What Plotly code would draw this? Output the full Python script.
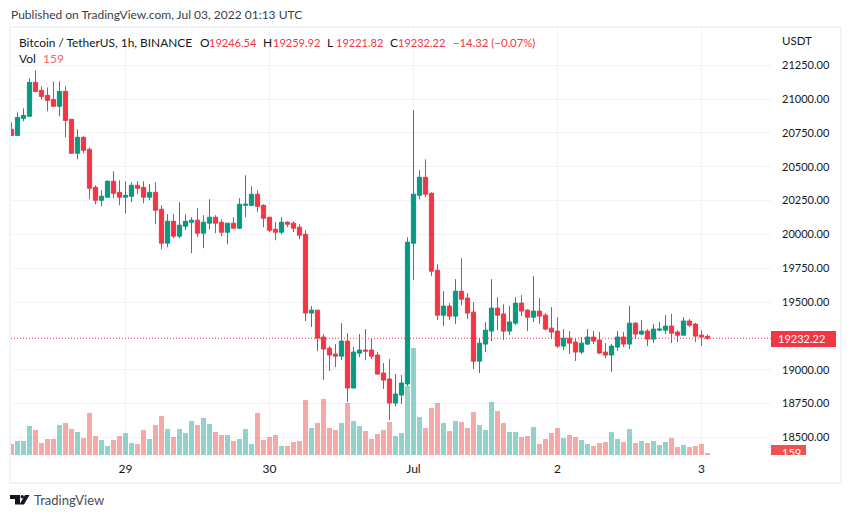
import pandas as pd
import plotly.graph_objects as go

# BTCUSDT 1h candles
times = pd.date_range("2022-06-28 05:00", periods=117, freq="h")

opens = [20777, 20732, 20858, 20873, 21124, 21065, 21028, 20998, 20947, 21057,
         20851, 20600, 20718, 20629, 20348, 20252, 20275, 20393, 20311, 20275,
         20282, 20363, 20348, 20275, 20311, 20186, 19935, 20097, 19987, 20060,
         20090, 20105, 20009, 20083, 20127, 20090, 20016, 20083, 20046, 20215,
         20215, 20297, 20215, 20127, 20038, 20016, 20090, 20083, 20053, 20001,
         19418, 19440, 19241, 19159, 19115, 19100, 19211, 18864, 19122, 19145,
         19145, 19108, 18975, 18931, 18753, 18812, 18894, 19935, 20289, 20422,
         20304, 19735, 19403, 19470, 19396, 19580, 19529, 19425, 19063, 19189,
         19285, 19455, 19411, 19285, 19344, 19492, 19440, 19388, 19433, 19403,
         19307, 19285, 19174, 19233, 19204, 19130, 19189, 19241, 19219, 19130,
         19108, 19167, 19241, 19189, 19344, 19263, 19285, 19226, 19292, 19292,
         19322, 19278, 19255, 19359, 19337, 19255, 19246.54]
highs = [20828, 20902, 20932, 21153, 21212, 21094, 21087, 21131, 21131, 21094,
         20851, 20777, 20725, 20644, 20363, 20326, 20400, 20467, 20400, 20393,
         20385, 20393, 20393, 20371, 20385, 20215, 20149, 20149, 20238, 20149,
         20127, 20193, 20142, 20260, 20142, 20112, 20083, 20127, 20267, 20437,
         20356, 20326, 20223, 20127, 20090, 20127, 20097, 20097, 20075, 20031,
         19470, 19440, 19263, 19174, 19189, 19344, 19270, 19167, 19263, 19300,
         19226, 19130, 19049, 19078, 18967, 18960, 19979, 20917, 20474, 20555,
         20311, 19780, 19580, 19492, 19669, 19824, 19566, 19499, 19233, 19351,
         19669, 19536, 19484, 19470, 19536, 19551, 19448, 19691, 19529, 19418,
         19462, 19388, 19300, 19285, 19226, 19241, 19300, 19285, 19278, 19196,
         19189, 19285, 19278, 19470, 19352, 19366, 19300, 19337, 19352, 19403,
         19411, 19292, 19388, 19374, 19344, 19292, 19259.92]
lows = [20732, 20732, 20836, 20873, 21050, 20998, 20910, 20947, 20873, 20718,
        20595, 20555, 20600, 20260, 20223, 20208, 20275, 20267, 20215, 20156,
        20238, 20297, 20230, 20252, 20075, 19891, 19905, 19972, 19972, 20031,
        19861, 19979, 19898, 20038, 20009, 19987, 19927, 20038, 20038, 20127,
        20208, 20164, 20053, 20016, 19957, 20001, 20053, 20016, 19964, 19359,
        19315, 19137, 18923, 18990, 19019, 19071, 18761, 18864, 19093, 19071,
        19078, 18967, 18857, 18628, 18731, 18746, 18879, 19662, 20260, 20275,
        19691, 19366, 19322, 19366, 19337, 19477, 19374, 19004, 18975, 19130,
        19211, 19292, 19219, 19255, 19329, 19396, 19285, 19352, 19337, 19292,
        19226, 19160, 19145, 19115, 19064, 19115, 19182, 19189, 19115, 19086,
        18982, 19137, 19167, 19152, 19226, 19255, 19174, 19196, 19285, 19263,
        19196, 19204, 19255, 19315, 19204, 19174, 19221.82]
closes = [20732, 20865, 20880, 21124, 21057, 21020, 20991, 20947, 21057, 20843,
          20600, 20718, 20622, 20341, 20252, 20282, 20393, 20304, 20275, 20289,
          20363, 20341, 20275, 20311, 20179, 19935, 20097, 19987, 20068, 20097,
          20105, 20009, 20090, 20127, 20083, 20016, 20083, 20046, 20223, 20223,
          20297, 20208, 20119, 20031, 20016, 20090, 20075, 20046, 19994, 19418,
          19440, 19233, 19152, 19108, 19100, 19211, 18864, 19130, 19145, 19137,
          19100, 18967, 18923, 18753, 18820, 18901, 19942, 20297, 20422, 20297,
          19728, 19403, 19470, 19396, 19580, 19521, 19418, 19063, 19196, 19292,
          19455, 19403, 19285, 19352, 19492, 19433, 19388, 19433, 19396, 19300,
          19278, 19174, 19233, 19196, 19130, 19196, 19241, 19211, 19123, 19108,
          19174, 19241, 19189, 19344, 19263, 19285, 19226, 19300, 19300, 19322,
          19270, 19255, 19359, 19329, 19248, 19241, 19232.22]
volumes = [875, 1113, 1113, 2306, 1988, 954, 1272, 1272, 2385, 2544,
           2067, 1829, 1352, 3339, 1511, 1193, 716, 1193, 1511, 1749,
           954, 875, 1988, 1272, 2385, 3101, 2067, 1431, 2067, 1749,
           2703, 2385, 2942, 2465, 1829, 1590, 1590, 1113, 1272, 2067,
           875, 3339, 1193, 1431, 1590, 716, 716, 1034, 1113, 4373,
           2147, 2544, 4452, 2147, 1988, 2544, 4134, 2703, 2306, 1908,
           1272, 1670, 1988, 2624, 1511, 1749, 5486, 8507, 3021, 2147,
           3737, 4134, 2544, 1908, 2703, 2624, 2147, 3419, 2385, 1988,
           4214, 3498, 2544, 1829, 1829, 1431, 1511, 2226, 875, 1272,
           1749, 2147, 1352, 1590, 1431, 1193, 875, 716, 954, 1034,
           1829, 1272, 1034, 2067, 954, 1113, 954, 1113, 795, 1034,
           1352, 636, 795, 636, 716, 875, 159]

# 19250 sits under the last price tag in the original, so no tick or grid for it
price_ticks = [18500, 18750, 19000, 19500, 19750, 20000, 20250, 20500,
               20750, 21000, 21250]
date_ticks = ["2022-06-29", "2022-06-30", "2022-07-01", "2022-07-02", "2022-07-03"]
date_labels = ["29", "30", "Jul", "2", "3"]
last_price = 19232.22
last_volume = 159

UP = "#089981"
DOWN = "#f23645"
GRID = "#f0f3fa"
TEXT = "#131722"
FONT = "Lato"

W, H = 851, 518
L, R, T, B = 11, 771, 28, 455


def px(x):
    return (x - L) / (R - L)


def py_(y):
    return (B - y) / (B - T)


def label(x, y, text, color=TEXT, size=12, **kw):
    return dict(xref="paper", yref="paper", x=px(x), y=py_(y), text=text,
                showarrow=False, xanchor="left", yanchor="middle", align="left",
                font=dict(family=FONT, size=size, color=color), borderpad=0, **kw)


def rect(x0, y0, x1, y1, **kw):
    return dict(type="rect", xref="paper", yref="paper", x0=px(x0), x1=px(x1),
                y0=py_(y0), y1=py_(y1), **kw)


def path(points):
    s = "M" + " L".join(f"{px(a):.5f},{py_(b):.5f}" for a, b in points) + " Z"
    return dict(type="path", xref="paper", yref="paper", path=s,
                fillcolor="#131722", line=dict(width=0))


vol_colors = ["rgba(38,166,154,0.5)" if c >= o else "rgba(239,83,80,0.5)"
              for o, c in zip(opens, closes)]

fig = go.Figure()
fig.add_trace(go.Bar(x=times, y=volumes, yaxis="y2", marker=dict(color=vol_colors, line=dict(width=0))))
fig.add_trace(go.Candlestick(
    x=times, open=opens, high=highs, low=lows, close=closes,
    increasing=dict(line=dict(color=UP, width=1), fillcolor=UP),
    decreasing=dict(line=dict(color=DOWN, width=1), fillcolor=DOWN),
    whiskerwidth=0,
))

shapes = [
    rect(10, 27, 841, 483, line=dict(color=GRID, width=2), fillcolor="rgba(0,0,0,0)"),
    dict(type="line", xref="paper", yref="y", x0=0, x1=1, y0=last_price, y1=last_price,
         line=dict(color=DOWN, width=1, dash="1px,2px")),
    rect(771, 331, 836, 347, fillcolor=DOWN, line=dict(width=0)),
    rect(771, 445, 806, 455, fillcolor="#ef5350", line=dict(width=0)),
    # logo
    path([(10, 495), (20, 495), (20, 504.5), (15, 504.5), (15, 499), (10, 499)]),
    path([(29.5, 495), (24, 504.5), (19.5, 504.5), (25, 495)]),
    dict(type="circle", xref="paper", yref="paper", x0=px(20.5), x1=px(24),
         y0=py_(495), y1=py_(498.5), fillcolor="#131722", line=dict(width=0)),
]

annotations = [
    label(10, 15, "Published on TradingView.com, Jul 03, 2022 01:13 UTC", "#3a3e4a"),
    label(18, 42, "Bitcoin / TetherUS, 1h, BINANCE", size=11.9),
    label(199, 42, "O"),
    label(208, 42, "19246.54", DOWN, size=11),
    label(262, 42, "H"),
    label(272, 42, "19259.92", DOWN, size=11),
    label(326, 42, "L"),
    label(335, 42, "19221.82", DOWN, size=11),
    label(389, 42, "C"),
    label(397, 42, "19232.22", DOWN, size=11),
    label(452, 42, "\u221214.32 (\u22120.07%)", DOWN, size=11.3),
    label(18, 59, "Vol"),
    label(42, 59, "159", "#f7636a"),
    label(781, 40, "USDT", size=11.5),
    label(777, 339, "19232.22", "white", size=11),
    label(781, 452, "159", "white", size=11),
    # hides the part of the volume tag below the pane
    dict(xref="paper", yref="paper", x=px(771), y=py_(455), width=40, height=7,
         text=" ", showarrow=False, xanchor="left", yanchor="top", bgcolor="white", borderpad=0),
    label(33, 500, "TradingView", "#4a4d57", size=13),
]

fig.update_layout(
    width=W, height=H,
    margin=dict(l=L, r=W - R, t=T, b=H - B, pad=0),
    paper_bgcolor="white", plot_bgcolor="white",
    showlegend=False, bargap=1 / 6, boxgap=0,
    font=dict(family=FONT, size=12, color=TEXT),
    shapes=shapes, annotations=annotations,
    xaxis=dict(
        type="date",
        range=["2022-06-28 04:55", "2022-07-03 11:35"],
        tickvals=date_ticks, ticktext=date_labels,
        rangeslider=dict(visible=False),
        showgrid=True, gridcolor=GRID, gridwidth=1, zeroline=False,
        showline=False, ticks="", ticklabelstandoff=5,
        tickfont=dict(family=FONT, size=12, color=TEXT),
    ),
    yaxis=dict(
        side="right", range=[18369, 21526],
        tickvals=price_ticks, tickformat=".2f",
        showgrid=True, gridcolor=GRID, gridwidth=1, zeroline=False,
        showline=False, ticks="", ticklabelstandoff=10,
        tickfont=dict(family=FONT, size=11, color=TEXT),
    ),
    yaxis2=dict(overlaying="y", range=[0, 33947], visible=False, side="left"),
)

fig.write_html("out.html", config=dict(displayModeBar=False),
               post_script="document.body.style.margin='0';")
